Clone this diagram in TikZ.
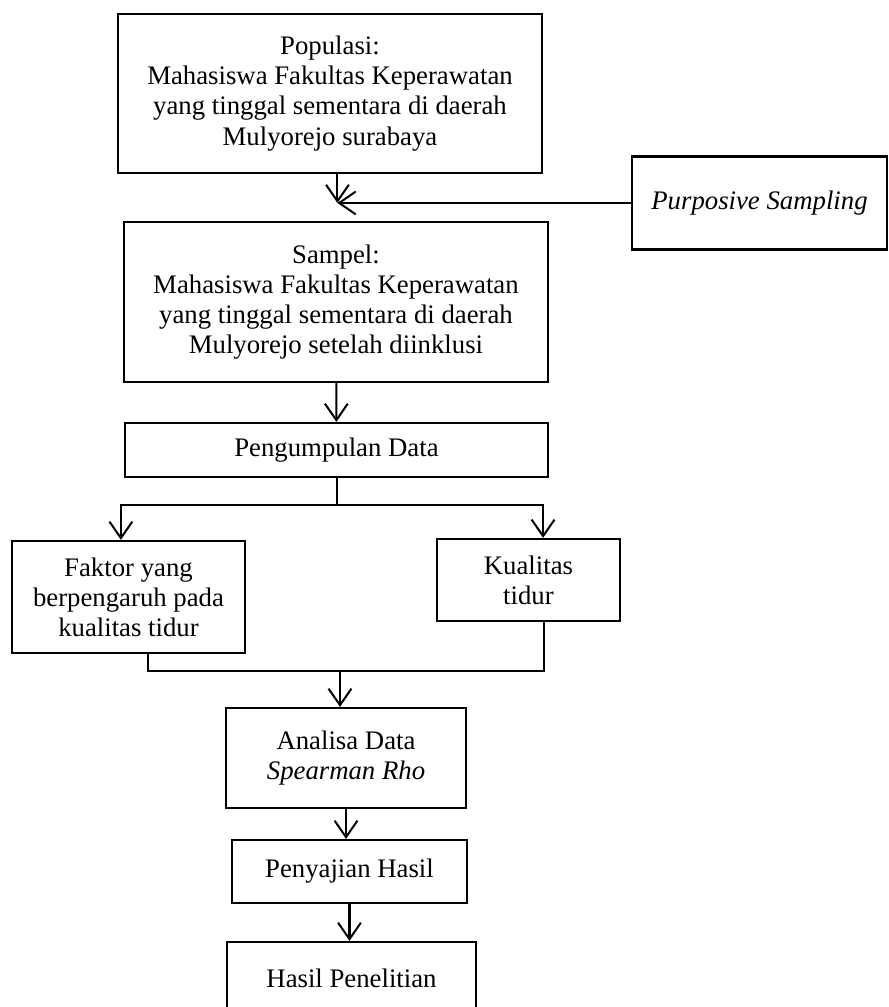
\documentclass[tikz,border=0pt]{standalone}
\usepackage{fontspec}
\setmainfont{Liberation Serif}
\usepackage{tikz}
\usetikzlibrary{calc,arrows.meta}

\begin{document}
\begin{tikzpicture}[
        >={Straight Barb[length=2.6mm,width=3.6mm]},
        box/.style={draw, line width=1pt, align=center, inner sep=2pt,
                    font=\fontsize{12}{13.5}\selectfont},
        arr/.style={->, line width=0.9pt},
        link/.style={line width=0.9pt}
      ]
        \useasboundingbox (0,0) rectangle (14,-15.876);

        \node[box, minimum width=6.685cm, minimum height=2.507cm] (populasi) at (5.203,-1.474)
          {Populasi:\\Mahasiswa Fakultas Keperawatan\\yang tinggal sementara di daerah\\Mulyorejo surabaya};
        \node[box, minimum width=4.02cm, minimum height=1.466cm] (purposive) at (11.974,-3.2)
          {\itshape Purposive Sampling};
        \node[box, minimum width=6.685cm, minimum height=2.523cm] (sampel) at (5.297,-4.761)
          {Sampel:\\Mahasiswa Fakultas Keperawatan\\yang tinggal sementara di daerah\\Mulyorejo setelah diinklusi};
        \node[box, minimum width=6.669cm, minimum height=0.851cm] (kumpul) at (5.305,-7.095)
          {Pengumpulan Data};
        \node[box, minimum width=3.673cm, minimum height=1.766cm] (faktor) at (2.026,-9.412)
          {Faktor yang\\berpengaruh pada\\kualitas tidur};
        \node[box, minimum width=2.885cm, minimum height=1.293cm] (kualitas) at (8.332,-9.144)
          {Kualitas\\tidur};
        \node[box, minimum width=3.784cm, minimum height=1.577cm] (analisa) at (5.455,-11.951)
          {Analisa Data\\\textit{Spearman Rho}};
        \node[box, minimum width=3.705cm, minimum height=0.993cm] (sajian) at (5.51,-13.74)
          {Penyajian Hasil};
        \node[box, minimum width=3.926cm, minimum height=1.135cm] (hasil) at (5.542,-15.419)
          {Hasil Penelitian};

        \coordinate (meet)  at (5.32,-3.2);
        \coordinate (split) at (5.32,-7.96);
        \coordinate (join)  at (5.36,-10.58);

        \draw[arr] (meet |- populasi.south) -- (meet);
        \draw[arr] (purposive) -- (meet);
        \draw[arr] (sampel) -- (kumpul);
        \draw[link] (kumpul.south -| split) -- (split);
        \draw[arr] (split) -| ($(faktor.north)+(-0.12,0)$);
        \draw[arr] (split) -| ($(kualitas.north)+(0.23,0)$);
        \draw[link] ($(faktor.south)+(0.31,0)$) |- (join);
        \draw[link] ($(kualitas.south)+(0.25,0)$) |- (join);
        \draw[arr] (join) -- (join |- analisa.north);
        \draw[arr] (analisa.south) -- (analisa.south |- sajian.north);
        \draw[arr] (sajian.south) -- (sajian.south |- hasil.north);
      \end{tikzpicture}
\end{document}
